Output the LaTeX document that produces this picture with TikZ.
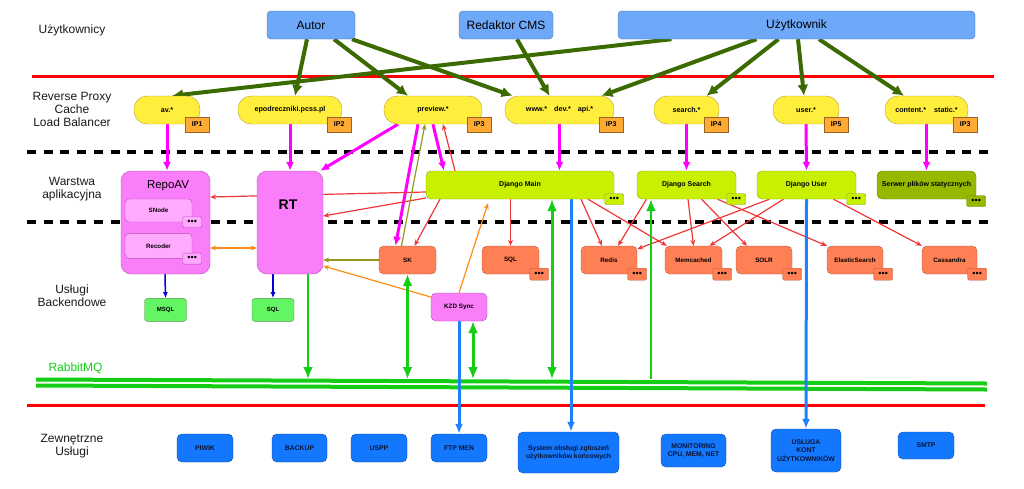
\documentclass[tikz,border=0pt]{standalone}
\usepackage{fontspec}
\setmainfont{Liberation Sans}
\usepackage{tikz}
\usetikzlibrary{arrows.meta, positioning, backgrounds, calc}
\definecolor{usrfill}{RGB}{110,168,248}
\definecolor{usrdraw}{RGB}{70,110,190}
\definecolor{pxfill}{RGB}{255,238,60}
\definecolor{pxdraw}{RGB}{180,160,50}
\definecolor{ipfill}{RGB}{255,170,50}
\definecolor{ipdraw}{RGB}{150,100,40}
\definecolor{djfill}{RGB}{200,240,0}
\definecolor{djdraw}{RGB}{130,165,40}
\definecolor{srvfill}{RGB}{150,185,0}
\definecolor{srvdraw}{RGB}{100,130,30}
\definecolor{bkfill}{RGB}{255,128,85}
\definecolor{bkdraw}{RGB}{185,85,55}
\definecolor{pkfill}{RGB}{250,125,250}
\definecolor{pkdraw}{RGB}{180,80,180}
\definecolor{pklight}{RGB}{255,170,255}
\definecolor{dbfill}{RGB}{100,245,100}
\definecolor{dbdraw}{RGB}{90,140,70}
\definecolor{extfill}{RGB}{20,120,255}
\definecolor{extdraw}{RGB}{15,75,170}
\definecolor{exttext}{RGB}{10,20,50}
\definecolor{usrgreen}{RGB}{58,106,0}
\definecolor{pxmagenta}{RGB}{255,0,255}
\definecolor{mqgreen}{RGB}{20,205,20}
\definecolor{callred}{RGB}{240,55,55}
\definecolor{lineblue}{RGB}{30,130,255}
\definecolor{olivearr}{RGB}{150,150,30}
\definecolor{orangearr}{RGB}{255,140,20}
\tikzstyle{rowlabel} = [align=center, font=\fontsize{12}{12.8}\selectfont, text=black!90]
\tikzstyle{userbox} = [rectangle, rounded corners=4pt, minimum height=28pt, inner sep=0pt, draw=usrdraw, fill=usrfill, font=\fontsize{12}{14}\selectfont]
\tikzstyle{proxy} = [rectangle, rounded corners=13pt, minimum height=28pt, inner sep=0pt, draw=pxdraw, fill=pxfill, font=\fontsize{7.2}{8}\selectfont\bfseries]
\tikzstyle{ipbox} = [rectangle, minimum width=24pt, minimum height=15pt, inner sep=0pt, draw=ipdraw, fill=ipfill, font=\fontsize{7}{8}\selectfont\bfseries]
\tikzstyle{appbox} = [rectangle, rounded corners=5pt, minimum width=99pt, minimum height=28pt, inner sep=0pt, draw=djdraw, fill=djfill, font=\fontsize{7}{8}\selectfont\bfseries]
\tikzstyle{backend} = [rectangle, rounded corners=5pt, minimum width=57pt, minimum height=28pt, inner sep=0pt, draw=bkdraw, fill=bkfill, font=\fontsize{6.3}{7}\selectfont\bfseries]
\tikzstyle{pinkbox} = [rectangle, rounded corners=10pt, inner sep=0pt, draw=pkdraw, fill=pkfill]
\tikzstyle{innerbox} = [rectangle, rounded corners=4pt, minimum width=67pt, inner sep=0pt, draw=pkdraw, fill=pklight, font=\fontsize{6.2}{7}\selectfont\bfseries]
\tikzstyle{dbbox} = [rectangle, rounded corners=3pt, minimum width=42pt, minimum height=23pt, inner sep=0pt, draw=dbdraw, fill=dbfill, font=\fontsize{6}{7}\selectfont\bfseries]
\tikzstyle{extbox} = [rectangle, rounded corners=5pt, minimum width=56pt, minimum height=28pt, inner sep=0pt, draw=extdraw, fill=extfill, align=center, text=exttext, font=\fontsize{6.8}{8.5}\selectfont\bfseries]
\tikzstyle{dotbox} = [rectangle, rounded corners=1.5pt, minimum width=19pt, minimum height=11pt, inner sep=0pt, font=\fontsize{9}{9}\selectfont]
\tikzstyle{usrarrow} = [line width=4pt, draw=usrgreen, -{Latex[length=11pt,width=11pt]}]
\tikzstyle{pxarrow} = [line width=3pt, draw=pxmagenta, -{Latex[length=9pt,width=8pt]}]
\tikzstyle{callarrow} = [line width=1.2pt, draw=callred, -{Stealth[length=6pt,width=5pt]}]
\tikzstyle{skarrow} = [line width=1.2pt, draw=olivearr, -{Stealth[length=6pt,width=5pt]}]
\tikzstyle{syncarrow} = [line width=1.2pt, draw=orangearr, -{Stealth[length=6pt,width=5pt]}]
\tikzstyle{mqarrow} = [line width=2.5pt, draw=mqgreen, -{Latex[length=12pt,width=10pt]}]
\tikzstyle{mqboth} = [line width=3pt, draw=mqgreen, {Latex[length=12pt,width=10pt]}-{Latex[length=12pt,width=10pt]}]
\tikzstyle{extarrow} = [line width=3pt, draw=lineblue, -{Latex[length=10pt,width=8pt]}]
\tikzstyle{dbarrow} = [line width=1.5pt, draw=blue!85!black, -{Latex[length=6pt,width=5pt]}]
\begin{document}
\begin{tikzpicture}[x=1pt, y=-1pt]
    \useasboundingbox (0,0) rectangle (1024,488);

    % Opisy warstw
    \node (lbusers) [rowlabel] at (72,30) {Użytkownicy};
    \node (lbproxy) [rowlabel] at (72,109.5) {Reverse Proxy\\Cache\\Load Balancer};
    \node (lbapp) [rowlabel] at (72,189.5) {Warstwa\\aplikacyjna};
    \node (lbback) [rowlabel] at (72,295.5) {Usługi\\Backendowe};
    \node (lbext) [rowlabel] at (72,446) {Zewnętrzne\\Usługi};
    \node (lbmq) [rowlabel, text=mqgreen, anchor=west] at (45,368) {RabbitMQ};

    % Użytkownicy
    \node (autor) [userbox, minimum width=88pt] at (311,25) {Autor};
    \node (redaktor) [userbox, minimum width=94pt] at (506,25) {Redaktor CMS};
    \node (uzytkownik) [userbox, minimum width=357pt] at (796.5,25) {Użytkownik};

    % Reverse proxy
    \node (pav) [proxy, minimum width=66pt] at (167,110) {av.*};
    \node (pepod) [proxy, minimum width=104pt] at (290,110) {epodreczniki.pcss.pl};
    \node (pprev) [proxy, minimum width=98pt] at (433,110) {preview.*};
    \node (pwww) [proxy, minimum width=109pt] at (559.5,110) {www.*\hspace{7pt}dev.*\hspace{7pt}api.*};
    \node (psearch) [proxy, minimum width=65pt] at (686.5,110) {search.*};
    \node (puser) [proxy, minimum width=66pt] at (806,110) {user.*};
    \node (pcontent) [proxy, minimum width=83pt] at (926.5,110) {content.*\hspace{8pt}static.*};
    \node (ipav) [ipbox] at ([xshift=-3pt]pav.south east) {IP1};
    \node (ipepod) [ipbox] at ([xshift=-3pt]pepod.south east) {IP2};
    \node (ipprev) [ipbox] at ([xshift=-3pt]pprev.south east) {IP3};
    \node (ipwww) [ipbox] at ([xshift=-3pt]pwww.south east) {IP3};
    \node (ipsearch) [ipbox] at ([xshift=-3pt]psearch.south east) {IP4};
    \node (ipuser) [ipbox] at ([xshift=-3pt]puser.south east) {IP5};
    \node (ipcontent) [ipbox] at ([xshift=-3pt]pcontent.south east) {IP3};

    % Warstwa aplikacyjna
    \node (repoav) [pinkbox, minimum width=89pt, minimum height=103pt] at (165.5,222.5) {};
    \node (repoavname) [font=\fontsize{11.5}{12}\selectfont] at (168,186) {RepoAV};
    \node (snode) [innerbox, minimum height=23pt] at (158.5,210.5) {SNode};
    \node (recoder) [innerbox, minimum height=25pt, below=11pt of snode] {Recoder};
    \node (snodedots) [dotbox, draw=pkdraw, fill=pklight] at (snode.south east) {•••};
    \node (recoderdots) [dotbox, draw=pkdraw, fill=pklight] at (recoder.south east) {•••};
    \node (rt) [pinkbox, minimum width=66pt, minimum height=103pt] at (290,222.5) {};
    \node (rtname) [font=\fontsize{14}{15}\selectfont\bfseries] at (288,205) {RT};
    \node (djmain) [appbox, minimum width=188pt] at (520,185) {Django Main};
    \node (djsearch) [appbox] at (686.5,185) {Django Search};
    \node (djuser) [appbox] at (806.5,185) {Django User};
    \node (serwer) [appbox, fill=srvfill, draw=srvdraw] at (926.5,185) {Serwer plików statycznych};
    \node (djmaindots) [dotbox, draw=djdraw, fill=djfill] at (djmain.south east) {•••};
    \node (djsearchdots) [dotbox, draw=djdraw, fill=djfill] at (djsearch.south east) {•••};
    \node (djuserdots) [dotbox, draw=djdraw, fill=djfill] at (djuser.south east) {•••};
    \node (serwerdots) [dotbox, draw=srvdraw, fill=srvfill] at ([yshift=-2pt]serwer.south east) {•••};

    % Usługi backendowe
    \node (msql) [dbbox, below=24pt of repoav] {MSQL};
    \node (sqlrt) [dbbox, below=24pt of rt, xshift=-17pt] {SQL};
    \node (sk) [backend] at (407.5,260) {SK};
    \node (sql) [backend] at (510.5,260) {SQL};
    \node (redis) [backend, minimum width=56pt] at (609,260) {Redis};
    \node (memcached) [backend] at (693.5,260) {Memcached};
    \node (solr) [backend, minimum width=56pt] at (764,260) {SOLR};
    \node (elastic) [backend, minimum width=56pt] at (855,260) {ElasticSearch};
    \node (cassandra) [backend, minimum width=55pt] at (949.5,260) {Cassandra};
    \node (sqldots) [dotbox, draw=bkdraw, fill=bkfill, minimum height=12pt] at (sql.south east) {•••};
    \node (redisdots) [dotbox, draw=bkdraw, fill=bkfill, minimum height=12pt] at (redis.south east) {•••};
    \node (memcacheddots) [dotbox, draw=bkdraw, fill=bkfill, minimum height=12pt] at (memcached.south east) {•••};
    \node (solrdots) [dotbox, draw=bkdraw, fill=bkfill, minimum height=12pt] at (solr.south east) {•••};
    \node (elasticdots) [dotbox, draw=bkdraw, fill=bkfill, minimum height=12pt] at (elastic.south east) {•••};
    \node (cassandradots) [dotbox, draw=bkdraw, fill=bkfill, minimum height=12pt] at (cassandra.south east) {•••};
    \node (kzd) [backend, draw=pkdraw, fill=pkfill, minimum width=56pt] at (459,307) {KZD Sync};

    % Zewnętrzne usługi
    \node (piwik) [extbox] at (205,448) {PIWIK};
    \node (backup) [extbox, minimum width=55pt] at (299.5,448) {BACKUP};
    \node (uspp) [extbox] at (379,448) {USPP};
    \node (ftp) [extbox] at (459,448) {FTP MEN};
    \node (system) [extbox, minimum width=101pt, minimum height=41pt] at (568.5,452.5) {System obsługi zgłoszeń\\użytkowników końcowych};
    \node (monitoring) [extbox, minimum width=65pt, minimum height=33pt] at (693.5,450.5) {MONITORING\\CPU, MEM, NET};
    \node (usluga) [extbox, minimum width=70pt, minimum height=43pt] at (806,450.5) {USŁUGA\\KONT\\UŻYTKOWNIKÓW};
    \node (smtp) [extbox, minimum height=27pt] at (926,445.5) {SMTP};

    \begin{scope}[on background layer]
        % Granice warstw
        \draw [red, line width=3pt] (32,76) -- (994,76);
        \draw [red, line width=3pt] (27,405.5) -- (985,405.5);
        \draw [black, line width=3.5pt, dash pattern=on 9pt off 7.7pt] (27,152) -- (995,152);
        \draw [black, line width=3.5pt, dash pattern=on 9pt off 7.7pt] (27,222) -- (995,222);

        % RabbitMQ
        \coordinate (mq) at (0,379);
        \draw [mqgreen, line width=4pt] (36,379.5) -- (987,383.5);
        \draw [mqgreen, line width=4pt] (36,385.5) -- (987,389.5);

        % Ruch użytkowników
        \draw [usrarrow] ([xshift=-4pt]autor.south) -- ([xshift=5pt]pepod.north);
        \draw [usrarrow] ([xshift=23pt]autor.south) -- ([xshift=-25pt]pprev.north);
        \draw [usrarrow] ([xshift=41pt]autor.south) -- ([xshift=-47pt]pwww.north);
        \draw [usrarrow] ([xshift=11pt]redaktor.south) -- ([xshift=-10pt]pwww.north);
        \draw [usrarrow] ([xshift=-125pt]uzytkownik.south) -- ([xshift=5pt]pav.north);
        \draw [usrarrow] ([xshift=-40pt]uzytkownik.south) -- ([xshift=42pt]pwww.north);
        \draw [usrarrow] ([xshift=-18pt]uzytkownik.south) -- ([xshift=20pt]psearch.north);
        \draw [usrarrow] ([xshift=1.5pt]uzytkownik.south) -- ([xshift=-2pt]puser.north);
        \draw [usrarrow] ([xshift=22.5pt]uzytkownik.south) -- ([xshift=-22.5pt]pcontent.north);

        % Proxy -> aplikacje
        \draw [pxarrow] (pav.south) -- (pav.south |- repoav.north);
        \draw [pxarrow] (pepod.south) -- (rt.north);
        \draw [pxarrow] ([xshift=-35pt]pprev.south) -- ([xshift=-3pt]rt.north east);
        \draw [pxarrow] ([xshift=-15pt]pprev.south) -- ([xshift=-12pt]sk.north);
        \draw [pxarrow] (pprev.south) -- ([xshift=-76pt]djmain.north);
        \draw [pxarrow] (pwww.south) -- (pwww.south |- djmain.north);
        \draw [pxarrow] (psearch.south) -- (djsearch.north);
        \draw [pxarrow] (puser.south) -- (djuser.north);
        \draw [pxarrow] (pcontent.south) -- (serwer.north);

        % Wywołania
        \draw [callarrow] ([xshift=-65pt]djmain.north) -- ([xshift=10pt]pprev.south);
        \draw [callarrow] ([yshift=-7pt]djmain.west) -- ([yshift=25.5pt]repoav.east);
        \draw [callarrow] ([yshift=-13pt]djmain.west) -- ([yshift=6.5pt]rt.east);
        \draw [callarrow] ([xshift=-80pt]djmain.south) -- ([xshift=7pt]sk.north);
        \draw [callarrow] ([xshift=-9.5pt]djmain.south) -- (sql.north);
        \draw [callarrow] ([xshift=61pt]djmain.south) -- ([xshift=-7pt]redis.north);
        \draw [callarrow] ([xshift=68pt]djmain.south) -- ([xshift=2pt]memcached.north west);
        \draw [callarrow] ([xshift=-40pt]djsearch.south) -- ([xshift=9pt]redis.north);
        \draw [callarrow] ([xshift=1.5pt]djsearch.south) -- (memcached.north);
        \draw [callarrow] ([xshift=15pt]djsearch.south) -- ([xshift=-17pt]solr.north);
        \draw [callarrow] ([xshift=31pt]djsearch.south) -- (elastic.north west);
        \draw [callarrow] ([xshift=-37pt]djuser.south) -- ([yshift=11pt]redis.east);
        \draw [callarrow] ([xshift=-23pt]djuser.south) -- ([xshift=16pt]memcached.north);
        \draw [callarrow] ([xshift=27pt]djuser.south) -- (cassandra.north west);
        \draw [skarrow] ([xshift=-6pt]sk.north) -- ([xshift=-8pt]pprev.south);
        \draw [skarrow] (sk.west) -- (sk.west -| rt.east);
        \draw [syncarrow] ([yshift=10pt]kzd.west) -- ([yshift=-43.5pt]rt.east);
        \draw [syncarrow] (kzd.north) -- ([xshift=-32pt,yshift=-4pt]djmain.south);
        \draw [syncarrow, {Stealth[length=6pt,width=5pt]}-{Stealth[length=6pt,width=5pt]}] ([yshift=-25.5pt]repoav.east) -- ([yshift=-25.5pt]rt.west);

        % Bazy
        \draw [dbarrow] ([xshift=-0.5pt]repoav.south) -- (msql.north);
        \draw [dbarrow] ([xshift=-17pt]rt.south) -- (sqlrt.north);

        % Kolejka
        \draw [mqarrow] ([xshift=18pt]rt.south) -- ([xshift=18pt]rt.south |- mq);
        \draw [mqboth] (sk.south) -- (sk.south |- mq);
        \draw [mqboth] ([xshift=14pt]kzd.south) -- ([xshift=14pt]kzd.south |- mq);
        \draw [mqboth] ([xshift=32pt]djmain.south) -- ([xshift=32pt]djmain.south |- mq);
        \draw [mqarrow, line width=2pt] ([xshift=-35.5pt]djsearch.south |- mq) -- ([xshift=-35.5pt]djsearch.south);

        % Usługi zewnętrzne
        \draw [extarrow] (kzd.south) -- (ftp.north);
        \draw [extarrow] ([xshift=51pt]djmain.south) -- ([xshift=2.5pt]system.north);
        \draw [extarrow] (djuser.south) -- (usluga.north);
    \end{scope}
\end{tikzpicture}
\end{document}
